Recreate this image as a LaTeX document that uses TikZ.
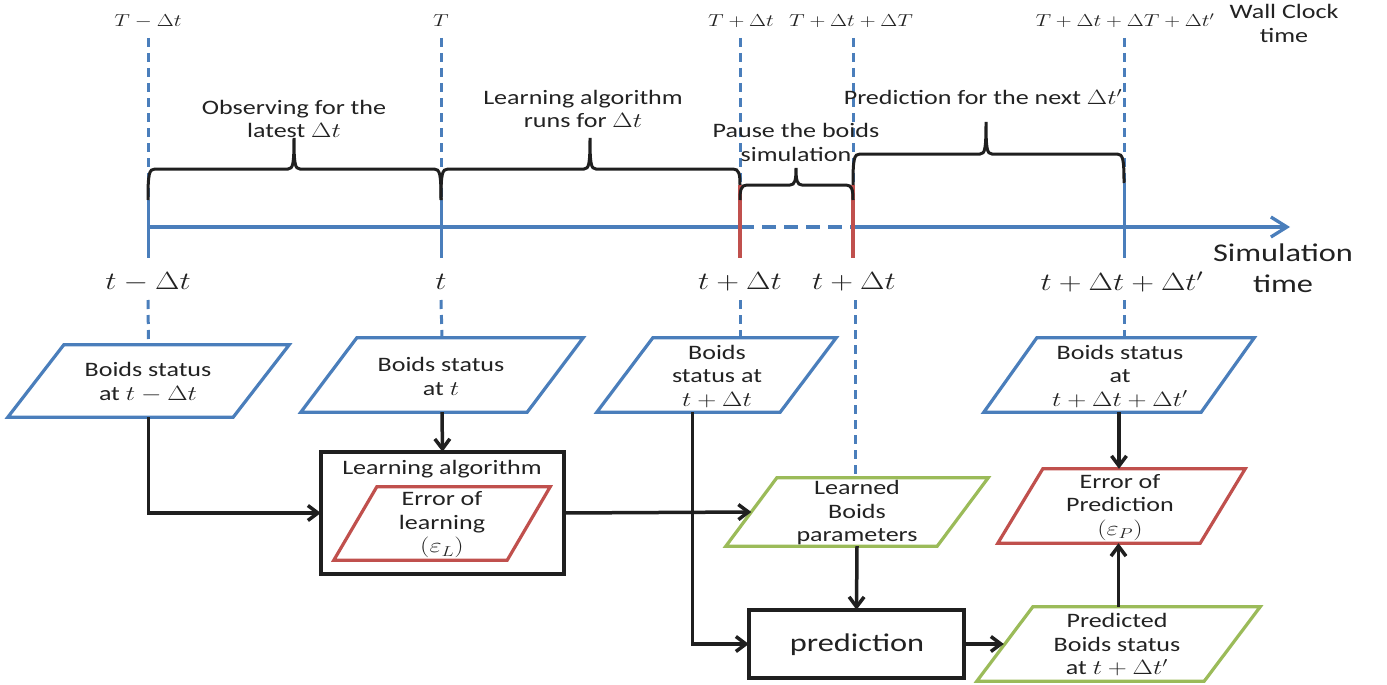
\documentclass[tikz,border=0pt]{standalone}
\usepackage{fontspec}
\setmainfont{Carlito}
\usetikzlibrary{arrows.meta,calc}
\definecolor{cblue}{HTML}{4A7EBB}
\definecolor{cred}{HTML}{C0504D}
\definecolor{cgreen}{HTML}{9BBB59}
\definecolor{ctext}{HTML}{222222}
\newcommand\bracepath[7]{%
  \draw[brc] (#1,#2) .. controls (#1,#5+5) and (#1+1,#5) .. (#1+7,#5)
    -- (#6-6,#5) .. controls (#6-1,#5) and (#6,#5-5) .. (#6,#7)
    .. controls (#6,#5-5) and (#6+1,#5) .. (#6+6,#5)
    -- (#3-7,#5) .. controls (#3-1,#5) and (#3,#5+5) .. (#3,#4);}
\newcommand\paral[3]{%
  \draw[#3] ($(#1.north west)+(#2,0)$) -- (#1.north east)
    -- ($(#1.south east)-(#2,0)$) -- (#1.south west) -- cycle;}
\begin{document}
\begin{tikzpicture}[x=1pt,y=-1pt,
  txt/.style={text=ctext, align=center, inner sep=0pt,
    font=\fontsize{20.5}{23.5}\selectfont, xscale=1.27},
  toplab/.style={text=ctext, inner sep=0pt,
    font=\fontsize{16.5}{20}\selectfont, xscale=1.27},
  simlab/.style={text=ctext, inner sep=0pt,
    font=\fontsize{25}{30}\selectfont, xscale=1.27},
  bigtxt/.style={text=ctext, align=center, inner sep=0pt,
    font=\fontsize{25.5}{31}\selectfont, xscale=1.27},
  box/.style={draw=none, inner sep=0pt, rectangle},
  bdash/.style={cblue, line width=3pt, dash pattern=on 9pt off 6pt},
  bsolid/.style={cblue, line width=3pt},
  rsolid/.style={cred, line width=3.5pt},
  brc/.style={black!88, line width=3pt},
  arr/.style={black!88, line width=3.5pt, -{Straight Barb[length=10pt,width=15pt,line width=3.5pt]}},
  pblue/.style={draw=cblue, line width=3.2pt, line join=miter},
  pred/.style={draw=cred, line width=3.2pt},
  pgreen/.style={draw=cgreen, line width=3.2pt},
]
\useasboundingbox (0,0) rectangle (1387,685);

% tick coordinates on the axis
\coordinate (a1) at (148,227);
\coordinate (a2) at (441,227);
\coordinate (a3) at (740,227);
\coordinate (a4) at (853,227);
\coordinate (a5) at (1124,227);
\coordinate (aend) at (1290,227);

% wall clock labels
\node[toplab] (w1) at (148,21) {$T-\Delta t$};
\node[toplab] (w2) at (441,21) {$T$};
\node[toplab] (w3) at (741,21) {$T+\Delta t$};
\node[toplab] (w4) at (851,21) {$T+\Delta t+\Delta T$};
\node[toplab] (w5) at (1125,21) {$T+\Delta t+\Delta T+\Delta t'$};
\node[txt] (wall) at (1284,23.5) {Wall Clock\\time};

% upper dashed lines
\draw[bdash] (148,38) -- (148,200);
\draw[bdash] (441,38) -- (441,200);
\draw[bdash] (740,38) -- (740,185);
\draw[bdash] (853,38) -- (853,185);
\draw[bdash] (1124,38) -- (1124,183);

% axis
\draw[bsolid, line width=3.3pt] (a1) -- (a3);
\draw[cblue, line width=3.3pt, dash pattern=on 14pt off 8pt] (a3) -- (a4);
\draw[cblue, line width=3.3pt, -{Straight Barb[length=16pt,width=20pt,line width=3.3pt]}] (a4) -- (aend);

% tick lines
\draw[bsolid] (148,200) -- (148,258);
\draw[bsolid] (441,200) -- (441,258);
\draw[bsolid] (1124,183) -- (1124,258);
\draw[rsolid] (740,185) -- (740,258);
\draw[rsolid] (853,185) -- (853,258);

% braces
\bracepath{148}{200}{441}{200}{169}{294}{138}
\bracepath{441}{200}{740}{185}{169}{590}{138}
\bracepath{740}{200}{853}{200}{185}{796}{168}
\bracepath{853}{185}{1124}{183}{154}{986}{122}

% brace labels
\node[txt] (b1) at (294,119) {Observing for the\\latest $\Delta t$};
\node[txt] (b2) at (583,109) {Learning algorithm\\runs for $\Delta t$};
\node[txt] (b3) at (796,142.5) {Pause the boids\\simulation};
\node[txt] (b4) at (983,97) {Prediction for the next $\Delta t'$};

% simulation time labels
\node[simlab] (s1) at (148,282) {$t-\Delta t$};
\node[simlab] (s2) at (441,282) {$t$};
\node[simlab] (s3) at (740,282) {$t+\Delta t$};
\node[simlab] (s4) at (854,282) {$t+\Delta t$};
\node[simlab] (s5) at (1122,282) {$t+\Delta t+\Delta t'$};
\node[bigtxt] (simt) at (1283,268.5) {Simulation\\time};

% shape nodes
\node[box, minimum width=281pt, minimum height=72pt] (P1) at (148.5,381) {};
\node[box, minimum width=282pt, minimum height=74pt] (P2) at (442,375) {};
\node[box, minimum width=239pt, minimum height=74pt] (P3) at (716.5,375) {};
\node[box, minimum width=270pt, minimum height=74pt] (P4) at (1119,375) {};
\node[box, minimum width=243pt, minimum height=122pt] (LA) at (442.5,513) {};
\node[box, minimum width=216pt, minimum height=73pt] (EL) at (442,523.5) {};
\node[box, minimum width=262pt, minimum height=68pt] (LB) at (857,512) {};
\node[box, minimum width=215pt, minimum height=68pt] (PR) at (856.5,644) {};
\node[box, minimum width=283pt, minimum height=74pt] (PB) at (1118.5,644) {};
\node[box, minimum width=247pt, minimum height=74pt] (EP) at (1121.5,506) {};

% lower dashed lines
\draw[bdash] (148,300) -- (P1.north);
\draw[bdash] (441,300) -- (P2.north);
\draw[bdash] (740,300) -- (a3 |- P3.north);
\draw[bdash] (855,300) -- (855,478);
\draw[bdash] (1124,300) -- (a5 |- P4.north);

% shapes
\paral{P1}{56}{pblue}
\paral{P2}{56}{pblue}
\paral{P3}{56}{pblue}
\paral{P4}{53}{pblue}
\draw[black!88, line width=3.5pt] (LA.north west) rectangle (LA.south east);
\paral{EL}{43}{pred}
\paral{LB}{51}{pgreen}
\draw[black!88, line width=3.5pt] (PR.north west) rectangle (PR.south east);
\paral{PB}{56}{pgreen}
\paral{EP}{45}{pred}

% texts
\node[txt] (P1t) at (148,382) {Boids status\\at $t-\Delta t$};
\node[txt] (P2t) at (441,376.5) {Boids status\\at $t$};
\node[txt] (P3t) at (717,376.5) {Boids\\status at\\$t+\Delta t$};
\node[txt] (P4t) at (1120,376.5) {Boids status\\at\\$t+\Delta t+\Delta t'$};
\node[txt] (LAt) at (442,469) {Learning algorithm};
\node[txt] (ELt) at (442,525) {Error of\\learning\\$(\varepsilon_L)$};
\node[txt] (LBt) at (857,513) {Learned\\Boids\\parameters};
\node[bigtxt] (PRt) at (857,645) {prediction};
\node[txt] (PBt) at (1117,645) {Predicted\\Boids status\\at $t+\Delta t'$};
\node[txt] (EPt) at (1120,507.5) {Error of\\Prediction\\$(\varepsilon_P)$};

% connectors
\draw[arr] (P1.south) |- (LA.west);
\draw[arr] (P2.south) -- (LA.north);
\draw[arr] (LA.east) -- ([xshift=25.5pt]LB.west);
\draw[arr] ([xshift=-24pt]P3.south) |- (PR.west);
\draw[arr] (LB.south) -- (PR.north);
\draw[arr] (PR.east) -- ([xshift=27pt]PB.west);
\draw[arr] (PB.north) -- (PB.north |- EP.south);
\draw[arr] (P4.south) -- (P4.south |- EP.north);
\end{tikzpicture}
\end{document}
